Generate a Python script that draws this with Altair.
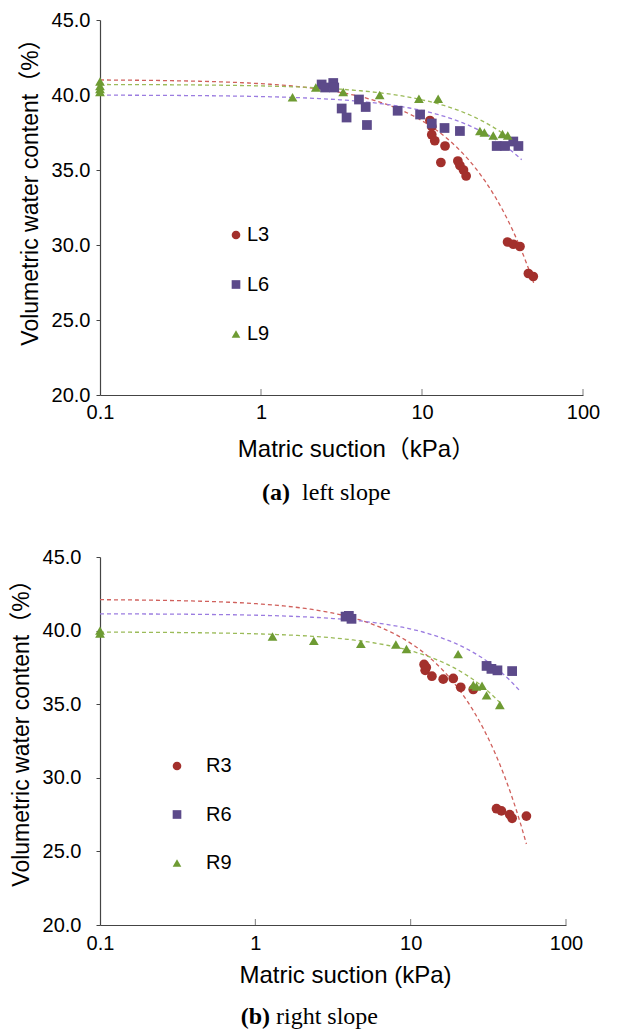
import altair as alt
import pandas as pd
import numpy as np

FONT = "Liberation Sans, Arial, Noto Sans CJK SC, sans-serif"
SERIF = "Liberation Serif, Times New Roman, serif"

# ---------------- data: left slope ----------------
left_names = ["L3", "L6", "L9"]
L3_x = [11.2, 11.5, 11.5, 12.0, 13.1, 13.9, 16.7, 17.2, 18.1, 18.8, 34.0, 36.9, 40.6, 45.8, 49.1]
L3_y = [38.3, 37.9, 37.35, 36.95, 35.5, 36.6, 35.6, 35.3, 35.0, 34.6, 30.2, 30.05, 29.9, 28.1, 27.9]
L6_x = [2.38, 2.5, 2.81, 2.85, 3.17, 3.40, 4.06, 4.47, 4.55, 7.06, 9.73, 11.5, 13.8, 17.2, 29.1, 32.8, 36.9, 39.7]
L6_y = [40.7, 40.5, 40.8, 40.5, 39.1, 38.5, 39.7, 39.2, 38.0, 38.95, 38.7, 38.1, 37.8, 37.6, 36.6, 36.6, 36.9, 36.6]
L9_x = [0.1, 0.1, 0.1, 0.1, 1.57, 2.19, 3.24, 5.46, 9.57, 12.6, 22.9, 24.4, 27.7, 31.6, 34.1]
L9_y = [40.9, 40.6, 40.4, 40.2, 39.85, 40.5, 40.2, 40.0, 39.75, 39.75, 37.6, 37.5, 37.3, 37.4, 37.3]
# trend lines: (intercept, slope, last suction)
left_fits = [(41.03, -0.2745, 50.0), (40.0, -0.1036, 41.6), (40.71, -0.103, 36.0)]

# ---------------- data: right slope ----------------
right_names = ["R3", "R6", "R9"]
R3_x = [12.2, 12.4, 12.6, 13.7, 16.2, 18.8, 21.0, 25.3, 35.7, 38.4, 43.4, 45.0, 55.6]
R3_y = [37.7, 37.3, 37.5, 36.9, 36.7, 36.75, 36.15, 36.0, 27.9, 27.75, 27.5, 27.25, 27.4]
R6_x = [3.81, 4.0, 4.16, 30.8, 33.1, 36.2, 45.0]
R6_y = [40.95, 41.0, 40.8, 37.6, 37.4, 37.3, 37.25]
R9_x = [0.1, 0.1, 1.29, 2.38, 4.78, 8.03, 9.4, 20.2, 25.3, 26.5, 28.8, 30.8, 37.5]
R9_y = [40.0, 39.8, 39.6, 39.3, 39.1, 39.05, 38.75, 38.4, 36.3, 36.2, 36.25, 35.6, 34.95]
right_fits = [(42.13, -0.299, 55.6), (41.15, -0.104, 50.0), (39.91, -0.128, 37.5)]

x_ticks = [0.1, 1, 10, 100]
y_ticks = [20, 25, 30, 35, 40, 45]

marker_colors = ["#A3302C", "#5C4A8A", "#6E9B33"]
line_colors = ["#D0605C", "#9B7CE0", "#9BBB59"]
shapes = ["circle", "square", "triangle-up"]


def points_df(names, xs_list, ys_list):
    rows = []
    for n, xs, ys in zip(names, xs_list, ys_list):
        for x, y in zip(xs, ys):
            rows.append({"series": n, "x": x, "y": y})
    return pd.DataFrame(rows)


def fit_df(names, params):
    rows = []
    for n, (a, b, xe) in zip(names, params):
        for x in np.logspace(-1, np.log10(xe), 80):
            rows.append({"fit": n, "x": float(x), "y": a + b * x})
    return pd.DataFrame(rows)


def panel(names, xs_list, ys_list, fits, width, height, x_title, cap_bold, cap_text,
          cap_split, cap_gap, cap_dy, leg_sym_x, leg_lab_x, leg_y0, leg_y2,
          y_label_pad, x_label_pad, x_title_pad, x_title_x, y_title_y):
    pts = points_df(names, xs_list, ys_list)
    fit = fit_df(names, fits)
    xscale = alt.Scale(type="log", domain=[0.1, 100], nice=False)
    yscale = alt.Scale(domain=[20, 45], nice=False, zero=False)
    xaxis = alt.Axis(values=x_ticks, format="~g", title=x_title, grid=False, ticks=False,
                     tickSize=0, labelPadding=x_label_pad, titlePadding=x_title_pad,
                     labelFlush=False, titleX=x_title_x)
    yaxis = alt.Axis(values=y_ticks, format=".1f", title="Volumetric water content（%）",
                     grid=False, tickSize=4, labelPadding=y_label_pad, titlePadding=9,
                     titleFontSize=23, titleY=y_title_y)
    X = alt.X("x:Q", scale=xscale, axis=xaxis)
    color = alt.Color("series:N", scale=alt.Scale(domain=names, range=marker_colors), legend=None)
    shape = alt.Shape("series:N", scale=alt.Scale(domain=names, range=shapes), legend=None)

    lines = alt.Chart(fit).mark_line(strokeDash=[4, 3], strokeWidth=1.3, clip=True).encode(
        x=X, y=alt.Y("y:Q", scale=yscale, axis=yaxis),
        stroke=alt.Stroke("fit:N", scale=alt.Scale(domain=names, range=line_colors), legend=None),
        detail="fit:N",
    )
    points = alt.Chart(pts).mark_point(filled=True, size=95, opacity=1).encode(
        x=X, y=alt.Y("y:Q", scale=yscale, axis=None), color=color, shape=shape,
    )
    # legend drawn inside the plot
    leg_df = pd.DataFrame({"series": names, "row": [0, 1, 2]})
    leg_y = alt.Y("row:O", scale=alt.Scale(type="point", domain=[0, 1, 2],
                                           range=[leg_y0, leg_y2], padding=0), axis=None)
    leg_sym = alt.Chart(leg_df).mark_point(filled=True, size=75, opacity=1).encode(
        x=alt.value(leg_sym_x), y=leg_y, color=color, shape=shape)
    leg_txt = alt.Chart(leg_df).mark_text(font=FONT, fontSize=20, align="left",
                                          baseline="middle", color="#000").encode(
        x=alt.value(leg_lab_x), y=leg_y, text="series:N")

    ticks = alt.Chart(pd.DataFrame({"t": x_ticks[1:]})).mark_tick(
        orient="vertical", size=6, thickness=1, color="#444").encode(
        x=alt.X("t:Q", scale=xscale), y=alt.value(height - 3))
    cap1 = alt.Chart(pd.DataFrame({"t": [cap_bold]})).mark_text(
        font=SERIF, fontSize=24, fontWeight="bold", align="right", baseline="middle").encode(
        x=alt.value(cap_split), y=alt.value(height + cap_dy), text="t:N")
    cap2 = alt.Chart(pd.DataFrame({"t": [cap_text]})).mark_text(
        font=SERIF, fontSize=24, align="left", baseline="middle").encode(
        x=alt.value(cap_split + cap_gap), y=alt.value(height + cap_dy), text="t:N")
    base = alt.layer(lines, points).resolve_scale(y="independent")
    return alt.layer(base, alt.layer(leg_sym, leg_txt), ticks, cap1, cap2).resolve_scale(
        y="independent").properties(width=width, height=height)


top = panel(left_names, [L3_x, L6_x, L9_x], [L3_y, L6_y, L9_y], left_fits,
            483, 375, "Matric suction（kPa）", "(a)", "left slope", 190, 12, 98,
            136, 147, 215, 314, 6, 7, 15, 256, 166)
bottom = panel(right_names, [R3_x, R6_x, R9_x], [R3_y, R6_y, R9_y], right_fits,
               466, 368, "Matric suction (kPa)", "(b)", "right slope", 170, 6, 92,
               77, 106, 209, 306, 15, 8, 10, 245, 170)

chart = alt.vconcat(top, bottom, spacing=42).resolve_scale(
    color="independent", shape="independent", stroke="independent"
).properties(
    padding={"top": 2, "left": 2, "right": 5, "bottom": 0}
).configure_view(stroke=None).configure_axis(
    labelFont=FONT, titleFont=FONT, labelFontSize=20, titleFontSize=24,
    titleFontWeight="normal", labelColor="#000", titleColor="#000",
    domainColor="#444", tickColor="#444", domainWidth=1.2,
)

chart.save("out.html", embed_options={"renderer": "svg", "actions": False})
